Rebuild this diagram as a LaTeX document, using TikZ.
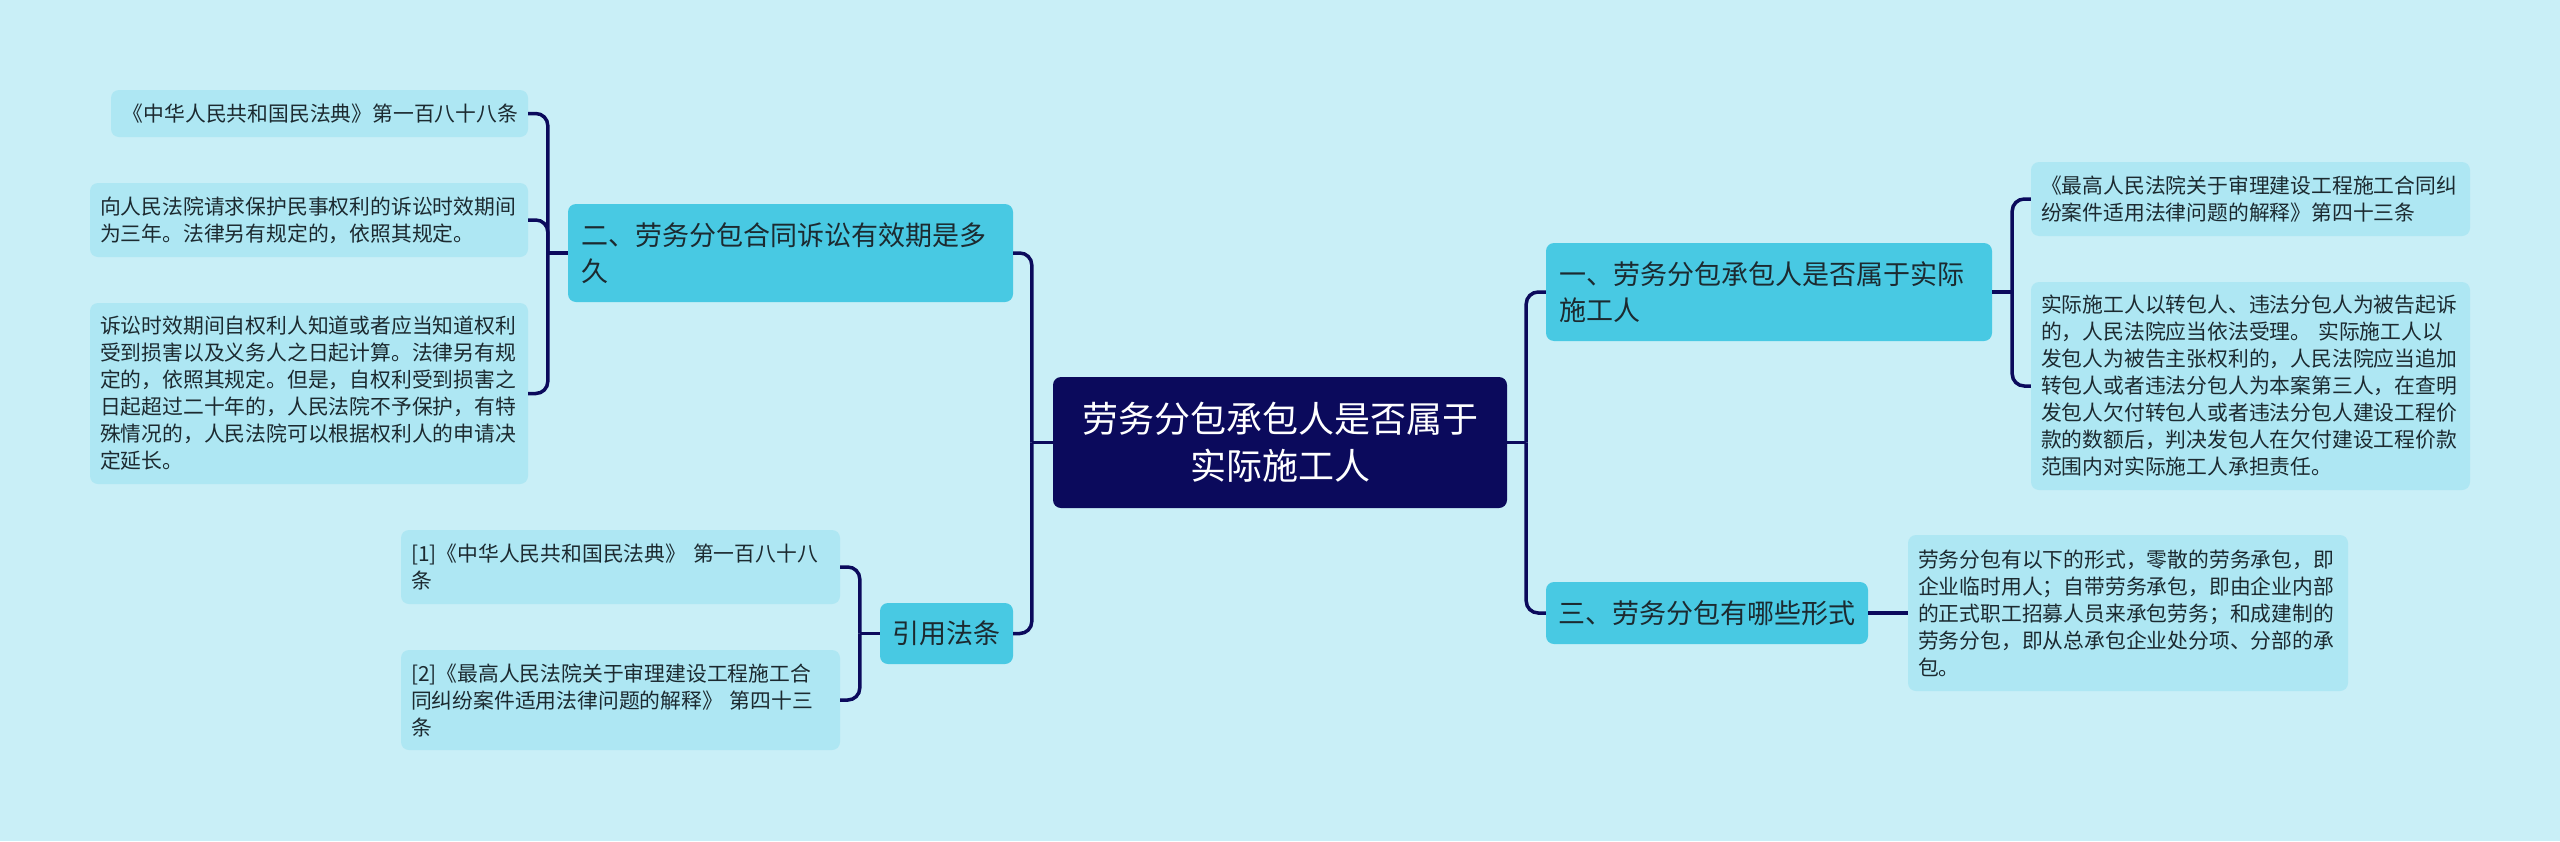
\documentclass[tikz,border=0pt]{standalone}
\usepackage{fontspec}
\setmainfont{Noto Sans CJK SC}
\usetikzlibrary{calc}
\definecolor{bg}{HTML}{C9EFF7}
\definecolor{navy}{HTML}{0B0A5C}
\definecolor{lone}{HTML}{48C9E3}
\definecolor{leafc}{HTML}{AEE7F3}
\definecolor{ink}{HTML}{1C2A30}
\begin{document}
\begin{tikzpicture}[x=1pt,y=-1pt,
  rootbox/.style={fill=navy, text=white, rounded corners=8pt, font=\fontsize{36}{47}\selectfont, align=center, inner sep=0pt},
  topicbox/.style={fill=lone, text=ink, rounded corners=8pt, font=\fontsize{27}{36}\selectfont, align=left, inner xsep=13pt, inner ysep=0pt},
  leafbox/.style={fill=leafc, text=ink, rounded corners=8pt, font=\fontsize{20.8}{27}\selectfont, align=left, inner xsep=10pt, inner ysep=0pt},
  conn/.style={draw=navy, line width=3.5pt, rounded corners=12pt}]
\fill[bg] (0,0) rectangle (2560,841);
\useasboundingbox (0,0) rectangle (2560,841);

% root
\node[rootbox, text width=454pt, minimum height=131pt] (root) at (1280,442.5)
  {劳务分包承包人是否属于\\实际施工人};

% level 1
\node[topicbox, text width=419pt, minimum height=98pt] (n2) at (790.5,253)
  {二、劳务分包合同诉讼有效期是多\\久};
\node[topicbox, align=center, inner xsep=12pt, text width=109pt, minimum height=61pt] (n4) at (946.5,633.5)
  {引用法条};
\node[topicbox, text width=420pt, minimum height=98pt] (n1) at (1769,292)
  {一、劳务分包承包人是否属于实际\\施工人};
\node[topicbox, inner xsep=12pt, text width=298pt, minimum height=62pt] (n3) at (1707,613)
  {三、劳务分包有哪些形式};

% left leaves
\node[leafbox, align=right, text width=397pt, minimum height=47pt] (l1) at (319.5,113.5)
  {《中华人民共和国民法典》第一百八十八条};
\node[leafbox, text width=418pt, minimum height=74pt] (l2) at (309,220)
  {向人民法院请求保护民事权利的诉讼时效期间\\为三年。法律另有规定的，依照其规定。};
\node[leafbox, text width=418pt, minimum height=181pt] (l3) at (309,393.5)
  {诉讼时效期间自权利人知道或者应当知道权利\\受到损害以及义务人之日起计算。法律另有规\\定的，依照其规定。但是，自权利受到损害之\\日起超过二十年的，人民法院不予保护，有特\\殊情况的，人民法院可以根据权利人的申请决\\定延长。};

\node[leafbox, text width=419pt, minimum height=74pt] (r1) at (620.5,567)
  {[1]《中华人民共和国民法典》 第一百八十八\\条};
\node[leafbox, text width=419pt, minimum height=100pt] (r2) at (620.5,700)
  {[2]《最高人民法院关于审理建设工程施工合\\同纠纷案件适用法律问题的解释》 第四十三\\条};

% right leaves
\node[leafbox, text width=419pt, minimum height=74pt] (la) at (2250.5,199)
  {《最高人民法院关于审理建设工程施工合同纠\\纷案件适用法律问题的解释》第四十三条};
\node[leafbox, text width=419pt, minimum height=208pt] (lb) at (2250.5,386)
  {实际施工人以转包人、违法分包人为被告起诉\\的，人民法院应当依法受理。 实际施工人以\\发包人为被告主张权利的，人民法院应当追加\\转包人或者违法分包人为本案第三人，在查明\\发包人欠付转包人或者违法分包人建设工程价\\款的数额后，判决发包人在欠付建设工程价款\\范围内对实际施工人承担责任。};
\node[leafbox, text width=420pt, minimum height=156pt] (lc) at (2128,613)
  {劳务分包有以下的形式，零散的劳务承包，即\\企业临时用人；自带劳务承包，即由企业内部\\的正式职工招募人员来承包劳务；和成建制的\\劳务分包，即从总承包企业处分项、分部的承\\包。};

% junctions
\coordinate (jC) at ($(root.west)+(-21,0)$);
\coordinate (jR) at ($(root.east)+(19,0)$);
\coordinate (jL) at ($(n2.west)+(-20,0)$);
\coordinate (j4) at ($(n4.west)+(-20,0)$);
\coordinate (j1) at ($(n1.east)+(20,0)$);

% connectors
\draw[conn] (root.west) -- (jC);
\draw[conn] (jC) |- (n2.east);
\draw[conn] (jC) |- (n4.east);
\draw[conn] (root.east) -- (jR);
\draw[conn] (jR) |- (n1.west);
\draw[conn] (jR) |- (n3.west);
\draw[conn] (n2.west) -- (jL);
\draw[conn] (jL) |- (l1.east);
\draw[conn] (jL) |- (l2.east);
\draw[conn] (jL) |- (l3.east);
\draw[conn] (n4.west) -- (j4);
\draw[conn] (j4) |- (r1.east);
\draw[conn] (j4) |- (r2.east);
\draw[conn] (n1.east) -- (j1);
\draw[conn] (j1) |- (la.west);
\draw[conn] (j1) |- (lb.west);
\draw[conn] (n3.east) -- (lc.west);
\end{tikzpicture}
\end{document}
